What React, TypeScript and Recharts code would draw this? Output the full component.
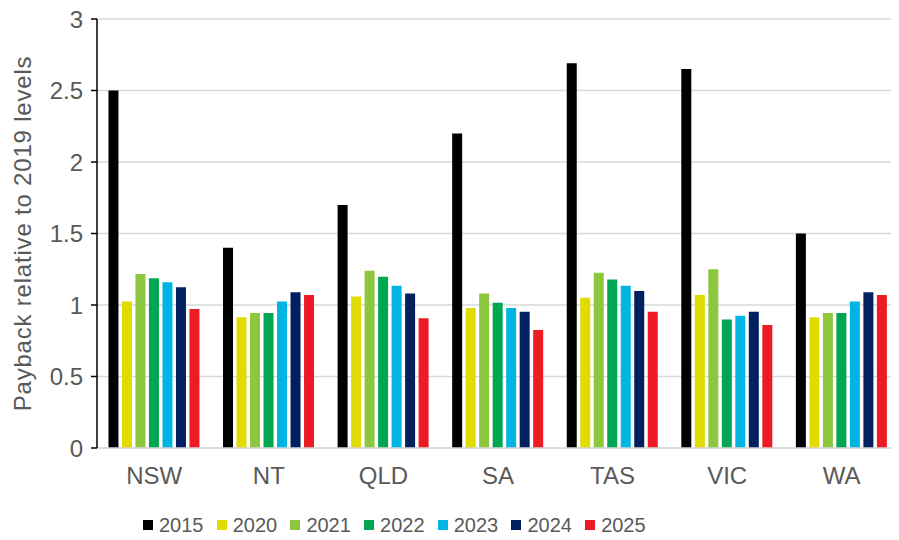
import React from 'react'
import { Bar, BarChart, CartesianGrid, Legend, XAxis, YAxis } from 'recharts'

const states = ['NSW', 'NT', 'QLD', 'SA', 'TAS', 'VIC', 'WA']

const v2015 = [2.5, 1.4, 1.7, 2.2, 2.69, 2.65, 1.5]
const v2020 = [1.025, 0.915, 1.06, 0.979, 1.051, 1.07, 0.915]
const v2021 = [1.216, 0.944, 1.24, 1.08, 1.225, 1.25, 0.944]
const v2022 = [1.187, 0.944, 1.197, 1.016, 1.178, 0.899, 0.944]
const v2023 = [1.159, 1.025, 1.134, 0.979, 1.134, 0.925, 1.025]
const v2024 = [1.124, 1.089, 1.08, 0.953, 1.098, 0.953, 1.089]
const v2025 = [0.972, 1.07, 0.908, 0.826, 0.953, 0.861, 1.07]

const yTicks = [0, 0.5, 1, 1.5, 2, 2.5, 3]

const series = [
  { key: '2015', values: v2015, color: '#000000' },
  { key: '2020', values: v2020, color: '#E0DC00' },
  { key: '2021', values: v2021, color: '#8DC63F' },
  { key: '2022', values: v2022, color: '#00A651' },
  { key: '2023', values: v2023, color: '#00B5E2' },
  { key: '2024', values: v2024, color: '#002060' },
  { key: '2025', values: v2025, color: '#ED1C24' },
]

const data = states.map((name, i) => {
  const row: Record<string, string | number> = { name }
  series.forEach(s => { row[s.key] = s.values[i] })
  return row
})

const font = '"Liberation Sans", Arial, sans-serif'
const textGray = '#595959'

const renderLegend = () => (
  <div style={{ display: 'flex', height: 14, alignItems: 'center', fontFamily: font }}>
    {series.map(s => (
      <div key={s.key} style={{ display: 'flex', alignItems: 'center', width: 73.7, flex: 'none' }}>
        <span style={{ width: 10, height: 10, background: s.color, display: 'inline-block', marginRight: 6 }} />
        <span style={{ fontSize: 20, color: textGray, lineHeight: '14px' }}>{s.key}</span>
      </div>
    ))}
  </div>
)

const App = () => {
  return (
    <div style={{ marginTop: -8 }}>
      <BarChart
        width={891}
        height={532}
        data={data}
        margin={{ top: 19, right: 0, bottom: 0, left: 0 }}
        barCategoryGap="10%"
        barGap={3.5}
      >
        <CartesianGrid vertical={false} stroke="#d9d9d9" strokeWidth={1.5} />
        <XAxis
          dataKey="name"
          height={70}
          tickLine={false}
          tickSize={0}
          tickMargin={19}
          axisLine={{ stroke: '#d9d9d9', strokeWidth: 1.5 }}
          tick={{ fill: textGray, fontSize: 24, fontFamily: font }}
        />
        <YAxis
          width={89}
          domain={[0, 3]}
          ticks={yTicks}
          interval={0}
          tickSize={6}
          tickMargin={8}
          axisLine={{ stroke: '#000', strokeWidth: 1.5 }}
          tickLine={{ stroke: '#000', strokeWidth: 1.5 }}
          tick={{ fill: textGray, fontSize: 24, fontFamily: font }}
          label={{
            value: 'Payback relative to 2019 levels',
            angle: -90,
            position: 'insideLeft',
            offset: 14,
            style: { textAnchor: 'middle', fill: textGray, fontSize: 24, fontFamily: font, letterSpacing: 0.8 },
          }}
        />
        <Legend
          verticalAlign="bottom"
          content={renderLegend}
          wrapperStyle={{ left: 135, width: 540, bottom: 0, height: 14 }}
        />
        {series.map(s => (
          <Bar key={s.key} dataKey={s.key} fill={s.color} isAnimationActive={false} />
        ))}
      </BarChart>
    </div>
  )
}

export default App
